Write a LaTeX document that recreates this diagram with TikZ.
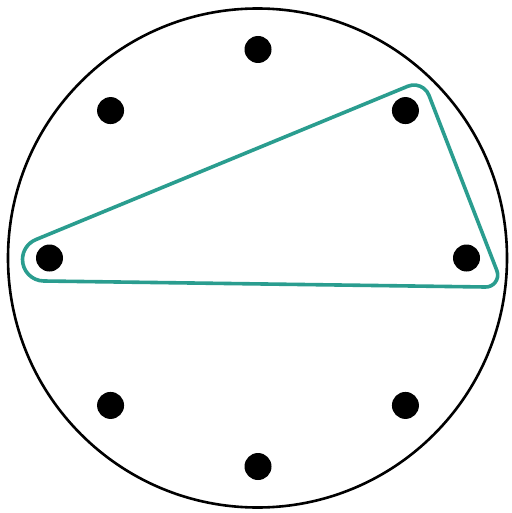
\documentclass[tikz,border=0pt]{standalone}
\usepackage{tikz}
\definecolor{hullteal}{RGB}{42,157,143}
\tikzset{
  dot/.style={circle,fill=black,draw=none,inner sep=0pt,minimum size=27pt},
  ring/.style={draw=black,line width=2.6pt},
  hull/.style={draw=hullteal,line width=3.6pt,line join=round}
}
\begin{document}
\begin{tikzpicture}[x=1pt,y=-1pt]
\useasboundingbox[fill=white] (0,0) rectangle (511,513);
\coordinate (ctr) at (257.5,258);
\draw[ring] (ctr) circle[radius=249.5];
\foreach \i/\a in {1/-90,2/-45,3/0,4/45,5/90,6/135,7/180,8/225}{
  \node[dot] (d\i) at ({258+208.5*cos(\a)},{258+208.5*sin(\a)}) {};
}
\draw[hull] (35.805,239.62) -- (407.90,86.21)
  arc[start angle=-112.41, end angle=-21.18, radius=16]
  -- (496.89,270.67)
  arc[start angle=-21.18, end angle=90.78, radius=12]
  -- (43.708,280.998)
  arc[start angle=90.78, end angle=247.59, radius=21.5]
  -- cycle;
\end{tikzpicture}
\end{document}
